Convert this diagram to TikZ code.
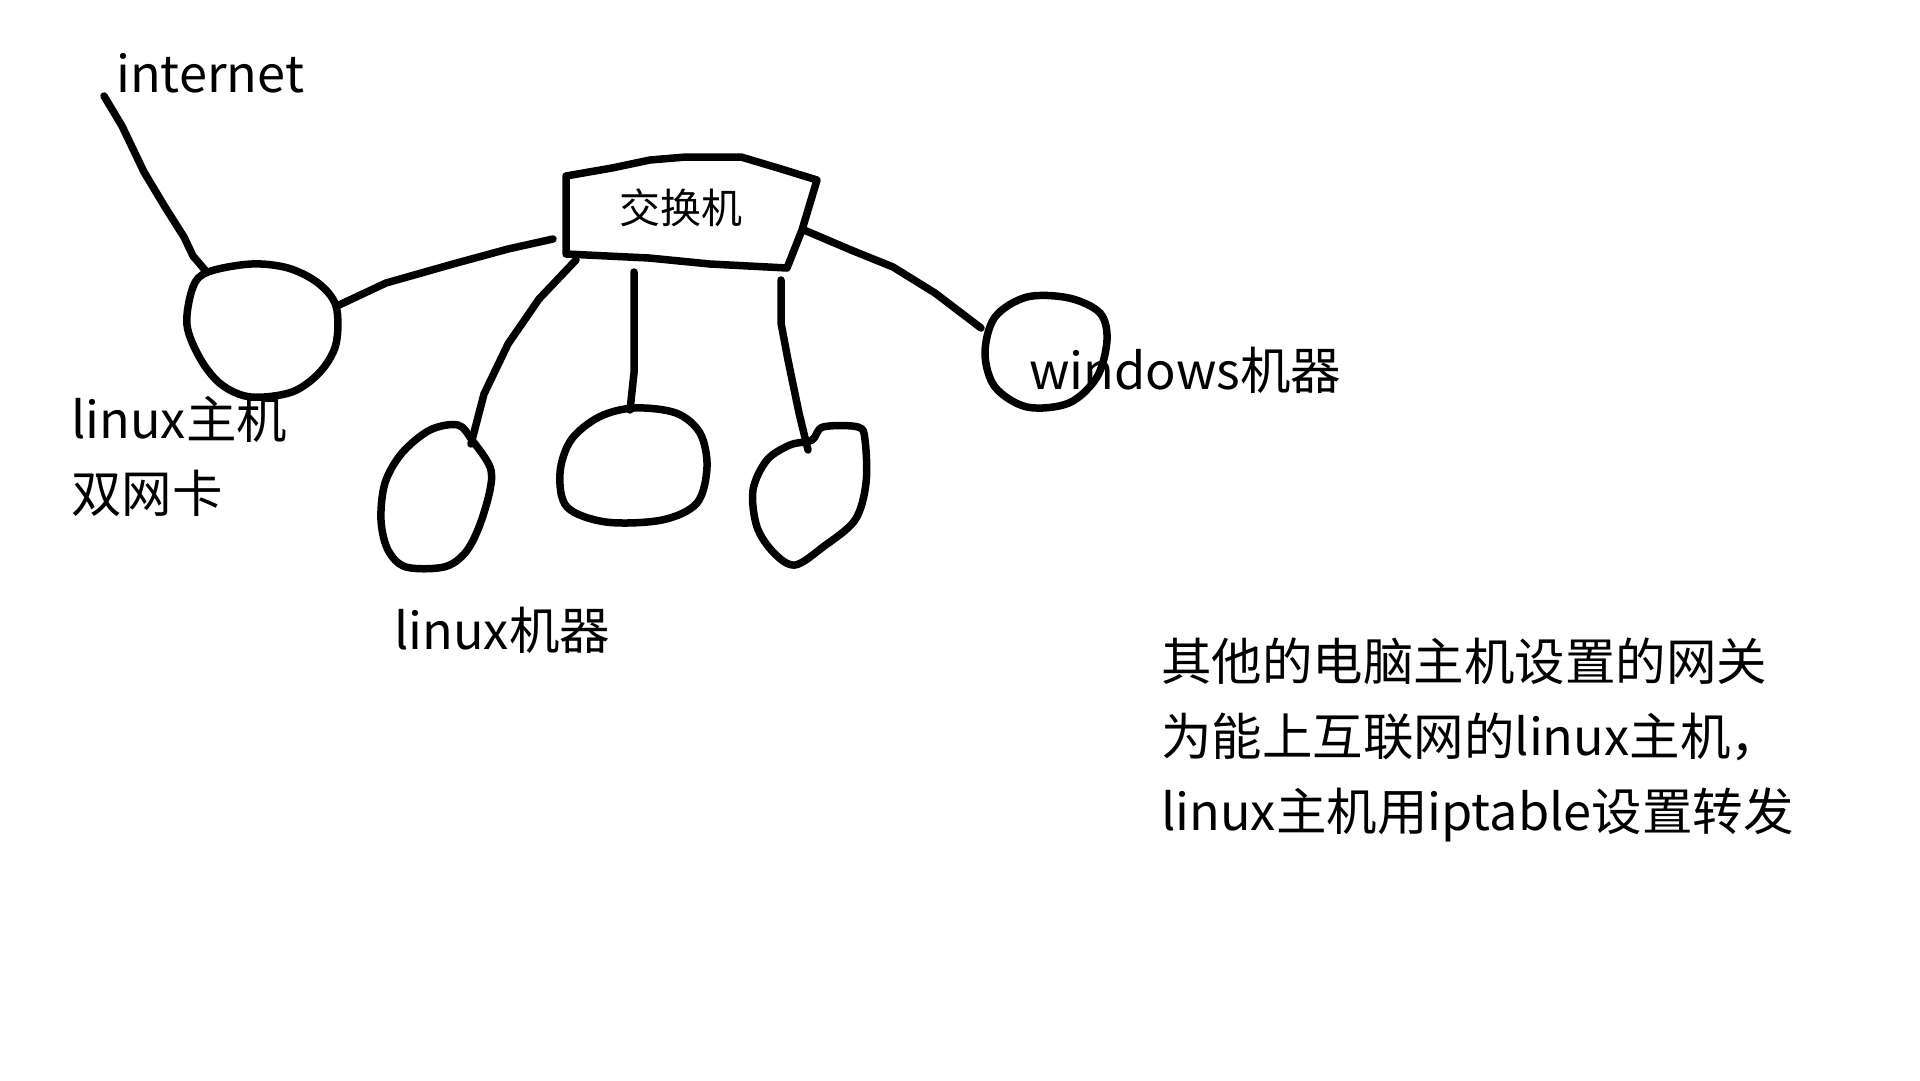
\documentclass[tikz,border=0pt]{standalone}
\usepackage{fontspec}
\setmainfont{Noto Sans CJK SC}
\begin{document}
\begin{tikzpicture}[x=1pt,y=-1pt,
  ink/.style={line width=7.5pt, line cap=round, line join=round},
  txt/.style={inner sep=0pt, anchor=base west, font=\fontsize{50.5}{73.5}\selectfont},
  small/.style={inner sep=0pt, font=\fontsize{41}{50}\selectfont}]
\useasboundingbox[fill=white] (0,0) rectangle (1920,1080);

% named attachment coordinates
\coordinate (inetEnd) at (104,96);
\coordinate (hostTop) at (205,270);
\coordinate (hostR) at (337,306);
\coordinate (swL) at (553,239);
\coordinate (swBL) at (576,260);
\coordinate (swB) at (634,272);
\coordinate (swBR) at (781,280);
\coordinate (swR) at (804,230);
\coordinate (m1) at (471,444);
\coordinate (m2) at (630,410);
\coordinate (m3) at (808,450);
\coordinate (winL) at (981,328);

% linux host blob
\draw[ink] plot[smooth cycle, tension=0.55] coordinates {
  (208,272) (251,264) (288,268) (318,283) (336,306) (336,344) (320,372)
  (292,392) (251,397) (222,385) (201,360) (187,325) (193,287)};

% switch
\draw[ink] (566,176) -- (612,168) -- (650,160) -- (686,157) -- (741,157) -- (778,168) -- (817,180)
  -- (802,230) -- (787,268) -- (710,264) -- (649,258) -- (566,254) -- cycle;
\node[small] (switch) at (681,208) {交换机};

% bottom blobs
\draw[ink] plot[smooth cycle, tension=0.55] coordinates {
  (458,425) (472,440) (490,467) (490,490) (479,527) (465,553) (444,567)
  (406,567) (388,550) (381,520) (385,483) (402,453) (430,430)};
\draw[ink] plot[smooth cycle, tension=0.55] coordinates {
  (634,408) (676,413) (700,433) (707,467) (697,503) (662,520) (606,522)
  (567,507) (560,473) (571,440) (599,417)};
\draw[ink] plot[smooth cycle, tension=0.55] coordinates {
  (823,427) (858,427) (865,440) (866,483) (855,520) (823,547) (795,565)
  (774,553) (757,527) (753,490) (767,460) (790,445) (812,440)};

% windows blob
\draw[ink] plot[smooth cycle, tension=0.55] coordinates {
  (1027,297) (1069,298) (1100,313) (1107,340) (1097,377) (1069,403)
  (1027,407) (995,387) (985,353) (995,317)};

% connectors
\draw[ink] (inetEnd) -- (122,126) -- (144,172) -- (165,207) -- (184,237) -- (193,256) -- (hostTop);
\draw[ink] (hostR) -- (386,283) -- (453,264) -- (508,249) -- (swL);
\draw[ink] (swBL) -- (539,299) -- (508,344) -- (484,394) -- (m1);
\draw[ink] (swB) -- (634,373) -- (m2);
\draw[ink] (swBR) -- (781,323) -- (788,360) -- (799,413) -- (m3);
\draw[ink] (swR) -- (851,250) -- (893,267) -- (935,293) -- (winL);

% labels
\node[txt] (internet) at (116,92) {internet};
\node[txt] (host1) at (71,438) {linux主机};
\node[txt] (host2) at (71,512) {双网卡};
\node[txt] (linuxm) at (394,649) {linux机器};
\node[txt] (winm) at (1029,389) {windows机器};
\node[txt] (p1) at (1161,680) {其他的电脑主机设置的网关};
\node[txt] (p2) at (1161,755) {为能上互联网的linux主机，};
\node[txt] (p3) at (1161,830) {linux主机用iptable设置转发};
\end{tikzpicture}
\end{document}
